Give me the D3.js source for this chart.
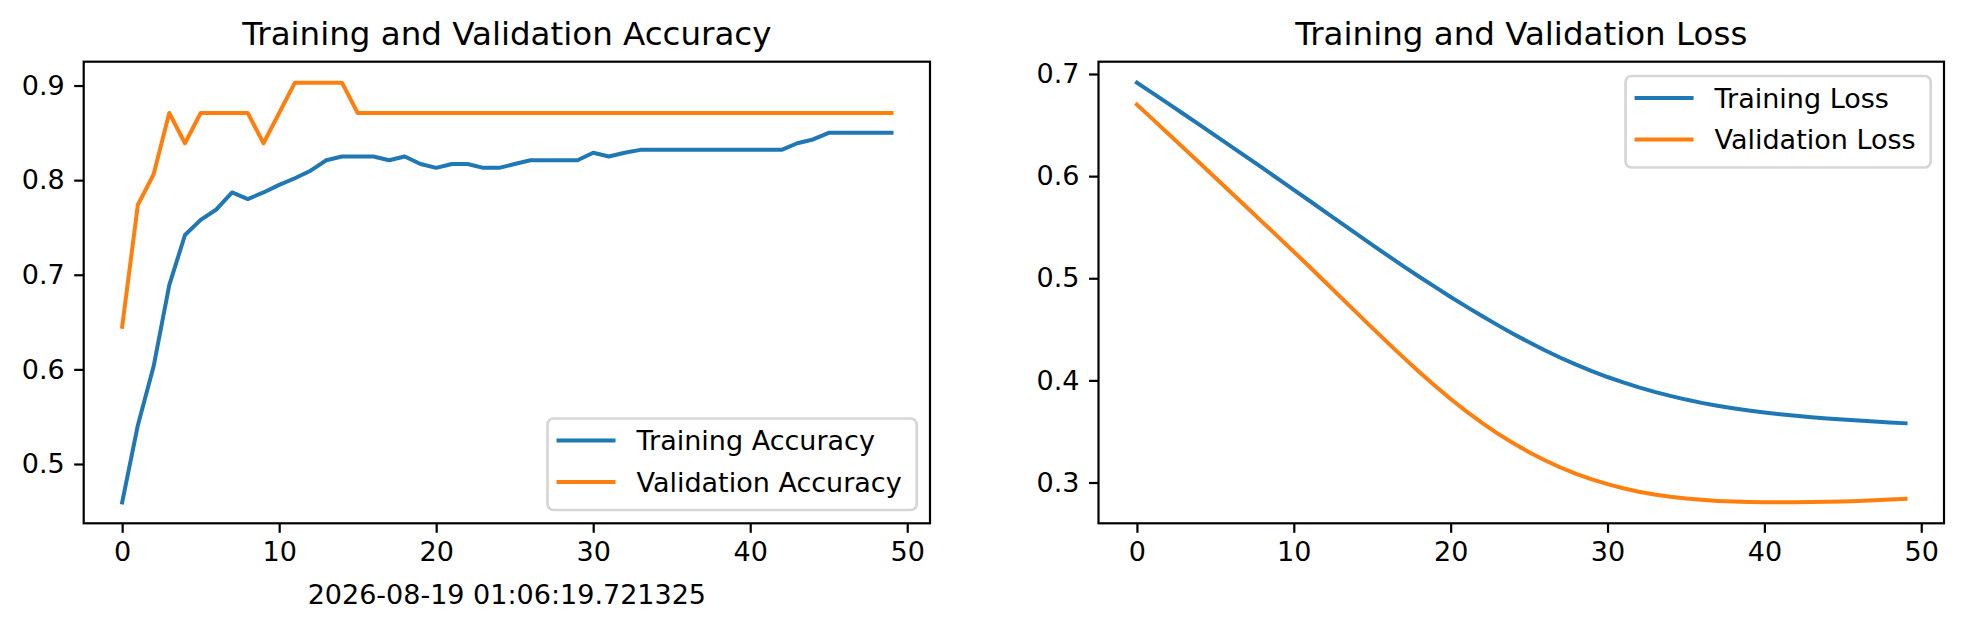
<!DOCTYPE html>
<html>
<head>
<meta charset="utf-8">
<script src="https://cdn.jsdelivr.net/npm/d3@7"></script>
<style>
  body { margin: 0; background: #fff; }
  svg { display: block; font-family: "DejaVu Sans", sans-serif; }
  .domain { display: none; }
</style>
</head>
<body>
<svg id="chart" width="1964" height="630"></svg>
<script>
// values, one per epoch (0..49)
var epochs = d3.range(50);

var trainAcc = [0.4595, 0.541, 0.603, 0.689, 0.742, 0.758, 0.769, 0.787, 0.780, 0.787,
                0.795, 0.802, 0.810, 0.821, 0.825, 0.825, 0.825, 0.821, 0.825, 0.817,
                0.813, 0.817, 0.817, 0.813, 0.813, 0.817, 0.821, 0.821, 0.821, 0.821,
                0.829, 0.825, 0.829, 0.832, 0.832, 0.832, 0.832, 0.832, 0.832, 0.832,
                0.832, 0.832, 0.832, 0.839, 0.843, 0.850, 0.850, 0.850, 0.850, 0.850];

var valAcc = [0.645, 0.774, 0.806, 0.871, 0.839, 0.871, 0.871, 0.871, 0.871, 0.839,
              0.871, 0.903, 0.903, 0.903, 0.903, 0.871, 0.871, 0.871, 0.871, 0.871,
              0.871, 0.871, 0.871, 0.871, 0.871, 0.871, 0.871, 0.871, 0.871, 0.871,
              0.871, 0.871, 0.871, 0.871, 0.871, 0.871, 0.871, 0.871, 0.871, 0.871,
              0.871, 0.871, 0.871, 0.871, 0.871, 0.871, 0.871, 0.871, 0.871, 0.871];

var trainLoss = [0.6915, 0.6813, 0.6710, 0.6606, 0.6502, 0.6397, 0.6292, 0.6186, 0.6080, 0.5973,
                 0.5866, 0.5759, 0.5651, 0.5543, 0.5435, 0.5327, 0.5221, 0.5117, 0.5015, 0.4915,
                 0.4817, 0.4722, 0.4630, 0.4541, 0.4455, 0.4373, 0.4295, 0.4222, 0.4154, 0.4091,
                 0.4033, 0.3980, 0.3932, 0.3888, 0.3848, 0.3812, 0.3780, 0.3752, 0.3727, 0.3705,
                 0.3685, 0.3668, 0.3653, 0.3639, 0.3627, 0.3616, 0.3606, 0.3597, 0.3588, 0.3580];

var valLoss = [0.6700, 0.6558, 0.6415, 0.6272, 0.6128, 0.5984, 0.5840, 0.5695, 0.5550, 0.5405,
               0.5260, 0.5112, 0.4963, 0.4813, 0.4663, 0.4514, 0.4367, 0.4223, 0.4083, 0.3948,
               0.3818, 0.3696, 0.3583, 0.3479, 0.3384, 0.3297, 0.3218, 0.3147, 0.3085, 0.3031,
               0.2984, 0.2944, 0.2910, 0.2882, 0.2860, 0.2843, 0.2830, 0.2820, 0.2813, 0.2809,
               0.2807, 0.2806, 0.2806, 0.2808, 0.2811, 0.2815, 0.2820, 0.2826, 0.2833, 0.2840];

var xTicks = [0, 10, 20, 30, 40, 50];
var accTicks = [0.5, 0.6, 0.7, 0.8, 0.9];
var lossTicks = [0.3, 0.4, 0.5, 0.6, 0.7];
var stamp = "2026-08-19 01:06:19.721325";

var blue = "#1f77b4", orange = "#ff7f0e";
var fontSize = 27;
var svg = d3.select("#chart");

drawPanel({
    left: 83.7, top: 61.7, width: 846.3, height: 461.6,
    title: "Training and Validation Accuracy",
    series: [{key: "Training Accuracy", values: trainAcc, color: blue},
             {key: "Validation Accuracy", values: valAcc, color: orange}],
    yTicks: accTicks,
    legend: "lower right"
});

drawPanel({
    left: 1098.5, top: 61.7, width: 845.5, height: 461.6,
    title: "Training and Validation Loss",
    series: [{key: "Training Loss", values: trainLoss, color: blue},
             {key: "Validation Loss", values: valLoss, color: orange}],
    yTicks: lossTicks,
    legend: "upper right"
});

// timestamp under the first panel
svg.append("text")
    .attr("x", 83.7 + 846.3 / 2)
    .attr("y", 604)
    .attr("text-anchor", "middle")
    .style("font-size", fontSize + "px")
    .text(stamp);

function drawPanel(p) {
    var g = svg.append("g").attr("transform", "translate(" + p.left + "," + p.top + ")");

    // matplotlib style 5% margins
    var xPad = (epochs[epochs.length - 1] - epochs[0]) * 0.05;
    var all = [];
    p.series.forEach(function(s) { all = all.concat(s.values); });
    var ext = d3.extent(all), yPad = (ext[1] - ext[0]) * 0.05;

    var x = d3.scaleLinear()
        .domain([epochs[0] - xPad, epochs[epochs.length - 1] + xPad])
        .range([0, p.width]);
    var y = d3.scaleLinear()
        .domain([ext[0] - yPad, ext[1] + yPad])
        .range([p.height, 0]);

    var xAxis = g.append("g")
        .attr("transform", "translate(0," + p.height + ")")
        .call(d3.axisBottom(x).tickValues(xTicks).tickSize(9.5).tickPadding(9.5).tickFormat(d3.format("d")));
    var yAxis = g.append("g")
        .call(d3.axisLeft(y).tickValues(p.yTicks).tickSize(9.5).tickPadding(9.5).tickFormat(d3.format(".1f")));

    [xAxis, yAxis].forEach(function(a) {
        a.selectAll("line").attr("stroke", "#000").attr("stroke-width", 2.2);
        a.selectAll("text")
            .attr("fill", "#000")
            .style("font-size", fontSize + "px")
            .style("font-family", "DejaVu Sans");
    });

    var clipId = "clip" + Math.round(p.left);
    g.append("clipPath").attr("id", clipId)
        .append("rect").attr("width", p.width).attr("height", p.height);

    var line = d3.line()
        .x(function(d, i) { return x(epochs[i]); })
        .y(function(d) { return y(d); });

    g.append("g").attr("clip-path", "url(#" + clipId + ")")
        .selectAll("path.series")
        .data(p.series)
        .enter().append("path")
        .attr("class", "series")
        .attr("d", function(s) { return line(s.values); })
        .attr("fill", "none")
        .attr("stroke", function(s) { return s.color; })
        .attr("stroke-width", 4)
        .attr("stroke-linejoin", "round")
        .attr("stroke-linecap", "square");

    // frame
    g.append("rect")
        .attr("width", p.width)
        .attr("height", p.height)
        .attr("fill", "none")
        .attr("stroke", "#000")
        .attr("stroke-width", 2.2);

    g.append("text")
        .attr("x", p.width / 2)
        .attr("y", 45 - p.top)
        .attr("text-anchor", "middle")
        .style("font-size", "32.5px")
        .text(p.title);

    // legend
    var lg = g.append("g");
    var box = lg.append("rect")
        .attr("rx", 6).attr("ry", 6)
        .attr("fill", "#fff").attr("fill-opacity", 0.8)
        .attr("stroke", "#d6d6d6").attr("stroke-width", 2.7);
    var maxLen = 0;
    p.series.forEach(function(s, i) {
        var cy = 22 + i * 41.6;
        lg.append("line")
            .attr("x1", 9).attr("x2", 68)
            .attr("y1", cy).attr("y2", cy)
            .attr("stroke", s.color)
            .attr("stroke-width", 4);
        var t = lg.append("text")
            .attr("x", 89)
            .attr("y", cy + 9.8)
            .style("font-size", fontSize + "px")
            .text(s.key);
        maxLen = Math.max(maxLen, t.node().getComputedTextLength());
    });
    var bw = 89 + maxLen + 15, bh = 91.5;
    box.attr("width", bw).attr("height", bh);
    var lx = p.width - 13.3 - bw;
    var ly = p.legend === "lower right" ? p.height - 13.3 - bh : 14.3;
    lg.attr("transform", "translate(" + lx + "," + ly + ")");
}
</script>
</body>
</html>
